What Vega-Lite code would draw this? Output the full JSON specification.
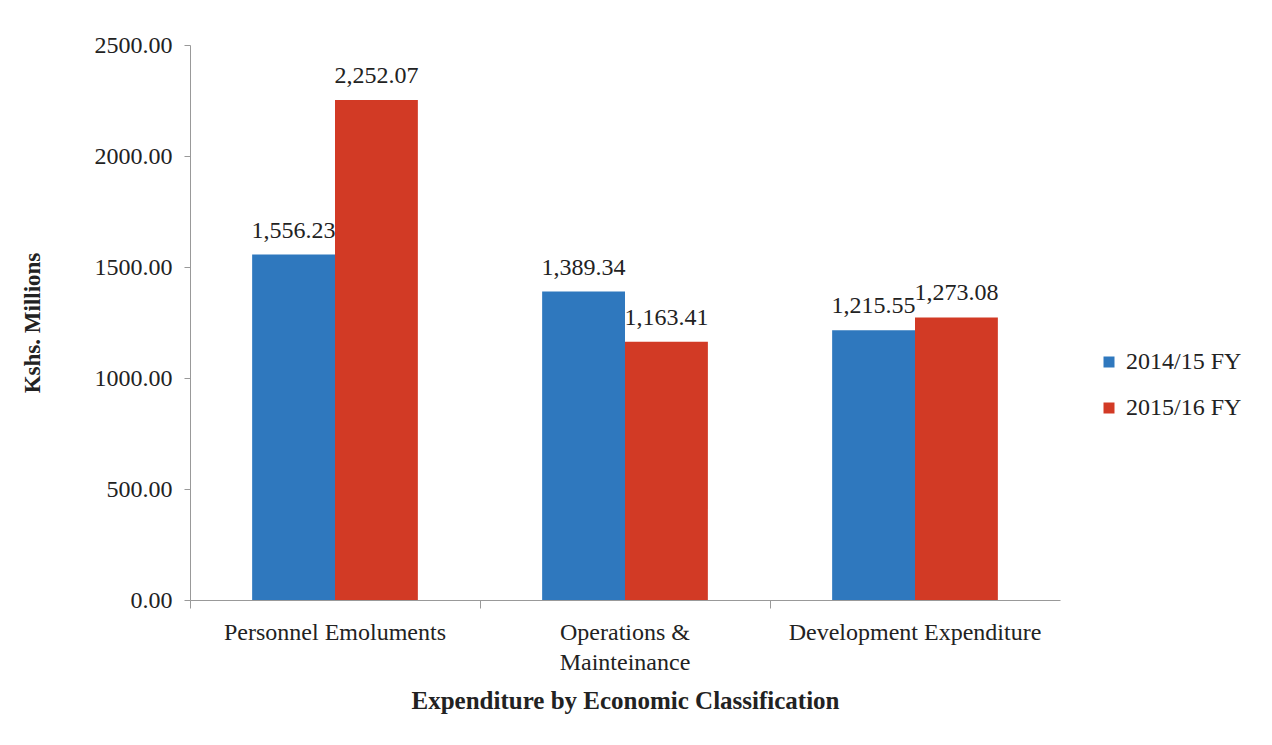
{
  "$schema": "https://vega.github.io/schema/vega-lite/v6.json",
  "autosize": "none",
  "width": 870,
  "height": 555,
  "padding": {"left": 190, "top": 45, "right": 212, "bottom": 145},
  "background": "white",
  "config": {
    "font": "Liberation Serif, Times New Roman, serif",
    "view": {"stroke": null},
    "axis": {"labelFont": "Liberation Serif, Times New Roman, serif", "titleFont": "Liberation Serif, Times New Roman, serif", "labelColor": "#222", "titleColor": "#222", "domainColor": "#999", "tickColor": "#999"},
    "legend": {"labelFont": "Liberation Serif, Times New Roman, serif"}
  },
  "data": {
    "values": [
      {"category": "Personnel Emoluments", "year": "2014/15 FY", "value": 1556.23},
      {"category": "Personnel Emoluments", "year": "2015/16 FY", "value": 2252.07},
      {"category": "Operations & Mainteinance", "year": "2014/15 FY", "value": 1389.34},
      {"category": "Operations & Mainteinance", "year": "2015/16 FY", "value": 1163.41},
      {"category": "Development Expenditure", "year": "2014/15 FY", "value": 1215.55},
      {"category": "Development Expenditure", "year": "2015/16 FY", "value": 1273.08}
    ]
  },
  "encoding": {
    "x": {
      "field": "category", "type": "nominal", "sort": null,
      "scale": {"paddingInner": 0, "paddingOuter": 0},
      "axis": {
        "title": "Expenditure by Economic Classification",
        "titleFontSize": 25, "titleFontWeight": "bold", "titlePadding": 14,
        "labelFontSize": 24, "labelAngle": 0, "labelPadding": 12, "labelLineHeight": 30, "labelLimit": 0,
        "labelExpr": "datum.value == 'Operations & Mainteinance' ? ['Operations &', 'Mainteinance'] : datum.value",
        "bandPosition": 0, "tickSize": 8, "grid": false
      }
    },
    "y": {
      "field": "value", "type": "quantitative",
      "scale": {"domain": [0, 2500]},
      "axis": {
        "title": "Kshs. Millions", "titleFontSize": 23, "titleFontWeight": "bold", "titlePadding": 50,
        "format": ".2f", "values": [0, 500, 1000, 1500, 2000, 2500],
        "labelFontSize": 24, "labelPadding": 12, "tickSize": 6, "grid": false
      }
    },
    "xOffset": {"field": "year", "type": "nominal", "scale": {"paddingInner": 0, "paddingOuter": 0.75}}
  },
  "layer": [
    {
      "mark": {"type": "bar"},
      "encoding": {
        "color": {
          "field": "year", "type": "nominal",
          "scale": {"domain": ["2014/15 FY", "2015/16 FY"], "range": ["#2F78BE", "#D23A25"]},
          "legend": {
            "title": null, "orient": "none", "legendX": 907, "legendY": 305,
            "symbolType": "square", "symbolSize": 121, "symbolStrokeWidth": 0,
            "labelFontSize": 24, "labelColor": "#222", "rowPadding": 22, "labelOffset": 5
          }
        }
      }
    },
    {
      "mark": {"type": "text", "baseline": "bottom", "dy": -12, "fontSize": 24, "color": "#222", "font": "Liberation Serif, Times New Roman, serif"},
      "encoding": {
        "text": {"field": "value", "type": "quantitative", "format": ",.2f"}
      }
    }
  ]
}
